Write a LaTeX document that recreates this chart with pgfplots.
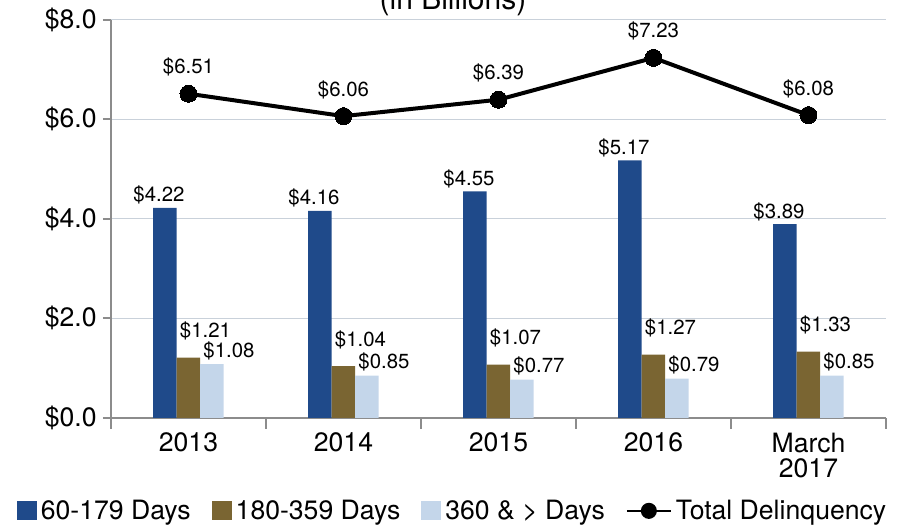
\documentclass[border=0pt]{standalone}
\usepackage{fontspec}
\setmainfont{TeX Gyre Heros}
\usepackage{pgfplots}
\pgfplotsset{compat=1.18}
\definecolor{cblue}{RGB}{31,74,138}
\definecolor{cbrown}{RGB}{122,101,50}
\definecolor{clight}{RGB}{196,214,234}
\definecolor{cgrid}{RGB}{201,209,218}
\definecolor{caxis}{RGB}{140,140,140}
\newcommand{\ticksize}{\fontsize{13.3}{12.5}\selectfont}
\newcommand{\lblsize}{\fontsize{10.2}{12}\selectfont}
\pgfplotsset{
  barleg/.style={legend image code/.code={\fill[##1,draw=none] (0pt,-4.75pt) rectangle (10pt,4.75pt);}},
}
\begin{document}
\begin{tikzpicture}
\begin{axis}[
  at={(0,0)}, anchor=south west,
  scale only axis, width=387.5pt, height=199.25pt,
  xmin=-0.5, xmax=4.5, ymin=0, ymax=8,
  clip=false,
  /pgf/number format/assume math mode=true,
  axis x line=bottom, axis y line=left,
  axis line style={-, draw=caxis, line width=1pt},
  tick align=outside,
  major tick length=4pt, minor tick length=5.5pt,
  xtick={0,1,2,3,4},
  xticklabels={2013,2014,2015,2016,{March\\2017}},
  minor xtick={-0.5,0.5,1.5,2.5,3.5,4.5},
  every major x tick/.append style={draw=none},
  every minor x tick/.append style={draw=caxis, line width=1pt},
  every major y tick/.append style={draw=caxis, line width=1pt},
  xticklabel style={font=\ticksize, align=center},
  ytick={0,2,4,6,8},
  yticklabel={\$\pgfmathprintnumber[fixed,fixed zerofill,precision=1]{\tick}},
  yticklabel style={font=\ticksize, inner sep=3pt},
  ymajorgrids, grid style={draw=cgrid, line width=0.6pt},
  legend style={at={(0.442,-0.233)}, anchor=center, draw=none, fill=none,
    font=\ticksize, inner sep=0pt, legend columns=-1,
    /tikz/every even column/.append style={column sep=8.5pt},
    nodes={inner xsep=2pt, inner ysep=0pt}},
  legend cell align=left,
]
\addplot[ybar, bar width=11.75pt, bar shift=-11.75pt, fill=cblue, draw=none, barleg,
  nodes near coords={\$\pgfmathprintnumber[fixed,fixed zerofill,precision=2]{\pgfplotspointmeta}},
  every node near coord/.append style={anchor=base, inner sep=0pt, font=\lblsize, xshift=-14.75pt, yshift=3pt, text=black}]
  coordinates {(0,4.22) (1,4.16) (2,4.55) (3,5.17) (4,3.89)};
\addlegendentry{60-179 Days}
\addplot[ybar, bar width=11.75pt, bar shift=0pt, fill=cbrown, draw=none, barleg,
  nodes near coords={\$\pgfmathprintnumber[fixed,fixed zerofill,precision=2]{\pgfplotspointmeta}},
  every node near coord/.append style={anchor=base, inner sep=0pt, font=\lblsize, xshift=8.5pt, yshift=10pt, text=black}]
  coordinates {(0,1.21) (1,1.04) (2,1.07) (3,1.27) (4,1.33)};
\addlegendentry{180-359 Days}
\addplot[ybar, bar width=11.75pt, bar shift=11.75pt, fill=clight, draw=none, barleg,
  nodes near coords={\$\pgfmathprintnumber[fixed,fixed zerofill,precision=2]{\pgfplotspointmeta}},
  every node near coord/.append style={anchor=base, inner sep=0pt, font=\lblsize, xshift=20.25pt, yshift=3.5pt, text=black}]
  coordinates {(0,1.08) (1,0.85) (2,0.77) (3,0.79) (4,0.85)};
\addlegendentry{360 \& > Days}
\addplot[black, line width=2pt, mark=*, mark size=4.25pt, mark options={fill=black, draw=black, line width=0pt},
  legend image code/.code={\draw[black, line width=1pt] (0pt,0pt) -- (22pt,0pt); \fill[black] (11pt,0pt) circle (3pt);},
  nodes near coords={\$\pgfmathprintnumber[fixed,fixed zerofill,precision=2]{\pgfplotspointmeta}},
  every node near coord/.append style={anchor=base, inner sep=0pt, font=\lblsize, yshift=10pt, text=black}]
  coordinates {(0,6.51) (1,6.06) (2,6.39) (3,7.23) (4,6.08)};
\addlegendentry{Total Delinquency}
\end{axis}
\node[anchor=base, font=\fontsize{15}{18}\selectfont] at (171pt,204pt) {(in Billions)};
\pgfresetboundingbox
\useasboundingbox (-55.5pt,-55pt) rectangle (397.5pt,209pt);
\end{tikzpicture}
\end{document}
